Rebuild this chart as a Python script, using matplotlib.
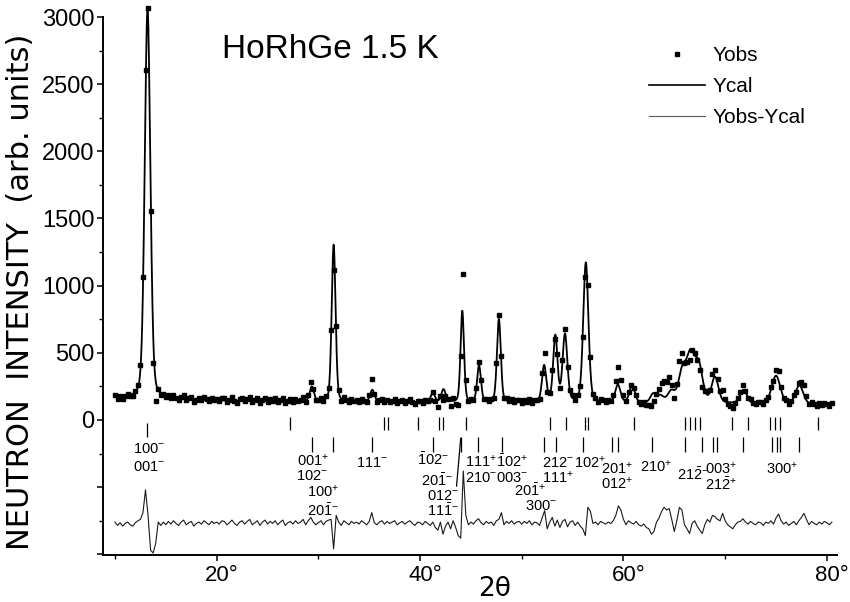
import numpy as np
import matplotlib.pyplot as plt
import matplotlib.transforms as mtransforms
from matplotlib.lines import Line2D
from matplotlib.ticker import MultipleLocator, FuncFormatter

plt.rcParams['font.family'] = ['Liberation Sans', 'DejaVu Sans']
plt.rcParams['mathtext.fontset'] = 'custom'
plt.rcParams['mathtext.rm'] = 'Liberation Sans'
plt.rcParams['mathtext.it'] = 'Liberation Sans'
plt.rcParams['mathtext.default'] = 'regular'

# fitted peak profile (2theta, height above background, fwhm)
peak_pos = [13.2, 29.35, 31.5, 35.3, 41.25, 42.3, 44.15, 45.8, 47.75, 52.2, 53.3, 54.25,
            56.3, 59.45, 60.85, 62.9, 63.6, 64.7, 65.8, 66.6, 67.4, 69.0, 71.8, 75.0, 77.3]
peak_height = [2900, 110, 1170, 90, 65, 95, 680, 270, 620, 270, 490, 500,
               1040, 130, 130, 60, 50, 80, 230, 330, 270, 190, 100, 210, 140]
peak_fwhm = [0.65, 0.5, 0.45, 0.5, 0.5, 0.5, 0.4, 0.45, 0.45, 0.5, 0.5, 0.55,
             0.6, 0.6, 0.6, 0.6, 0.8, 0.8, 0.9, 0.9, 0.9, 0.8, 0.8, 1.0, 0.9]
bg_pos = [10, 20, 30, 40, 50, 60, 70, 80]
bg_val = [165, 145, 135, 132, 130, 128, 122, 112]

# Yobs - Ycal, every 0.25 deg starting at 10 deg
diff = [10, -15, 5, -20, 0, 10, -10, -20, 5, 20, 30, 80, 250, 60, -200, -220, -150, 10, -15, 10,
        -10, 15, -5, 20, 0, -15, 10, 25, -10, 5, 15, -20, 0, 10, -5, 20, 5, -10, 15, 0,
        10, -5, 20, 15, -10, 5, 25, 0, -15, 10, 20, -5, 15, 30, -10, 5, 20, -15, 10, 25,
        -5, 15, 0, 20, -10, 10, 25, -15, 5, 15, -5, 20, 0, 10, 30, -10, 20, 45, 10, -10,
        5, 20, -10, 15, 25, 30, -190, 60, 10, -15, 20, 5, -10, 15, 0, 10, -5, 20, 5, -10,
        15, 80, 5, -10, 10, 20, -5, 15, 0, 10, 20, -10, 5, 15, -5, 10, 20, 0, -15, 10,
        5, -10, 15, 0, -15, 10, -30, -50, 10, -80, -20, 10, -40, 20, -30, -90, -110, 390, 60, -10,
        10, -5, 20, 35, 5, -10, 15, 0, 10, -15, 20, 30, 80, -10, 15, 0, 20, -5, 10, 15,
        -5, 15, 0, 20, -10, 10, 5, -15, 40, 95, -40, 10, 45, -20, 25, -30, 15, 30, -25, 10,
        20, -15, 10, -20, -40, -90, 120, 90, 0, 10, -10, 15, 5, -5, 10, 0, 20, 60, 130, 100,
        30, -10, 20, 5, -5, 15, -10, -20, -5, -30, -40, -80, -60, 10, 40, 90, 120, 100, 110, 30,
        -60, 20, 120, 100, -10, -40, -75, 0, 20, -20, -50, -75, -10, 30, 10, 60, 50, 30, 20, 75,
        20, -10, -25, -40, -10, 10, 15, 35, 10, -5, 15, 0, -10, 10, 5, -15, 10, 0, 20, -5,
        40, 70, 20, -5, 10, -15, 0, 15, -10, 20, 45, 75, 30, -10, 15, 0, -10, 10, -5, 15,
        5, -10, 10]
diff_offset = -770

# reflection positions
nuc_pos = [27.2, 36.45, 36.85, 39.8, 41.85, 42.25, 44.5, 52.75, 54.35, 56.2, 56.5, 61.0,
           66.05, 66.55, 67.05, 67.5, 70.65, 72.25, 74.4, 74.9, 75.4, 79.1]
mag_pos = [13.15, 29.35, 31.45, 35.25, 41.25, 44.0, 45.7, 48.05, 52.2, 53.35, 56.0, 58.85,
           59.45, 62.8, 66.05, 67.7, 68.8, 69.2, 71.75, 74.6, 75.1, 75.4, 77.25]

hkl_text = [r'$100^{-}$', r'$001^{-}$', r'$001^{+}$', r'$102^{-}$', r'$100^{+}$', r'$20\bar{1}^{-}$',
            r'$111^{-}$', r'$\bar{1}02^{-}$', r'$20\bar{1}^{-}$', r'$11\bar{1}^{-}$',
            r'$111^{+}$', r'$210^{-}$', r'$\bar{1}02^{+}$', r'$003^{-}$', r'$20\bar{1}^{+}$', r'$300^{-}$',
            r'$212^{-}$', r'$111^{+}$', r'$102^{+}$', r'$201^{+}$', r'$012^{+}$', r'$210^{+}$',
            r'$21\bar{2}^{-}$', r'$003^{+}$', r'$21\bar{2}^{+}$', r'$300^{+}$']
hkl_xy = [(13.3, -215), (13.3, -350), (29.5, -305), (29.4, -415), (30.5, -536), (30.5, -675),
          (35.3, -320), (41.3, -298), (41.65, -454), (42.3, -678),
          (45.95, -313), (45.95, -432), (49.0, -313), (49.0, -432), (50.8, -525), (51.85, -640),
          (53.6, -320), (53.6, -432), (56.75, -320), (59.4, -365), (59.4, -477), (63.2, -350),
          (66.8, -410), (69.6, -365), (69.6, -484), (75.6, -365)]


def ycal(tt):
    y = np.interp(tt, bg_pos, bg_val)
    for c, h, w in zip(peak_pos, peak_height, peak_fwhm):
        u = (tt - c) / w
        y = y + h * (0.75 * np.exp(-4 * np.log(2) * u ** 2) + 0.25 / (1 + 4 * u ** 2))
    return y


tt_fine = np.arange(10.0, 80.6, 0.02)
tt_obs = 10.0 + 0.25 * np.arange(len(diff))
yobs = ycal(tt_obs) + np.array(diff)

fig = plt.figure(figsize=(8.5, 6.02), dpi=100)
ax = fig.add_axes([103 / 850, 47 / 602, 734 / 850, 538 / 602])

ax.plot(tt_fine, ycal(tt_fine), color='k', lw=1.3, clip_on=False)
ax.plot(tt_obs, yobs, ls='none', marker='s', ms=3.0, color='k', clip_on=False)
ax.plot(tt_obs, np.array(diff) + diff_offset, color='0.1', lw=0.8)

ax.vlines(nuc_pos, -75, 20, color='k', lw=0.9)
ax.vlines(mag_pos[:1], -20, -130, color='k', lw=0.9)
ax.vlines(mag_pos[1:], -235, -125, color='k', lw=0.9)

for txt, (x, y) in zip(hkl_text, hkl_xy):
    ax.text(x, y, txt, ha='center', va='center', fontsize=10.5)
ax.annotate(r'$012^{-}$', xy=(44.0, -135), xytext=(42.3, -566), ha='center', va='center',
            fontsize=10.5, arrowprops=dict(arrowstyle='-', lw=0.9, color='k',
                                           shrinkA=0, shrinkB=0, relpos=(0.9, 1.0)))

ax.text(0.162, 0.939, 'HoRhGe 1.5 K', transform=ax.transAxes, fontsize=24, ha='left', va='center')

handles = [Line2D([], [], ls='none', marker='s', ms=3.0, color='k'),
           Line2D([], [], color='k', lw=1.2),
           Line2D([], [], color='0.35', lw=0.8)]
ax.legend(handles, ['Yobs', 'Ycal', 'Yobs-Ycal'], loc='upper left', bbox_to_anchor=(0.73, 0.965),
          frameon=False, fontsize=15, handlelength=2.7, handletextpad=0.35, labelspacing=0.58,
          borderpad=0, numpoints=1)

ax.set_xlim(8.82, 81.0)
ax.set_ylim(-1005, 3000)
ax.spines['top'].set_visible(False)
ax.spines['right'].set_visible(False)
ax.spines['left'].set_linewidth(1.4)
ax.spines['bottom'].set_linewidth(1.4)

ax.xaxis.set_major_locator(MultipleLocator(20))
ax.xaxis.set_minor_locator(MultipleLocator(10))
ax.xaxis.set_major_formatter(FuncFormatter(lambda v, p: f'{v:.0f}°'))
ax.yaxis.set_major_locator(MultipleLocator(500))
ax.yaxis.set_minor_locator(MultipleLocator(250))
ax.yaxis.set_major_formatter(FuncFormatter(lambda v, p: f'{v:.0f}' if v >= 0 else ''))
ax.tick_params(which='major', direction='out', length=4, width=1.1)
ax.tick_params(which='minor', direction='out', length=3, width=1.0)
ax.tick_params(axis='x', pad=3, labelsize=16)
ax.tick_params(axis='y', pad=2, labelsize=17)
shift = mtransforms.ScaledTranslation(5 / 100, 0, fig.dpi_scale_trans)
for lab in ax.get_xticklabels():
    lab.set_transform(lab.get_transform() + shift)

ax.set_xlabel('2θ', fontsize=19, family=['DejaVu Sans'], va='center')
ax.xaxis.set_label_coords(0.534, -0.063)
ax.set_ylabel('NEUTRON  INTENSITY  (arb. units)', fontsize=22, family=['DejaVu Sans'])
ax.yaxis.set_label_coords(-0.092, 0.489)

fig.savefig('out.png', dpi=100)
